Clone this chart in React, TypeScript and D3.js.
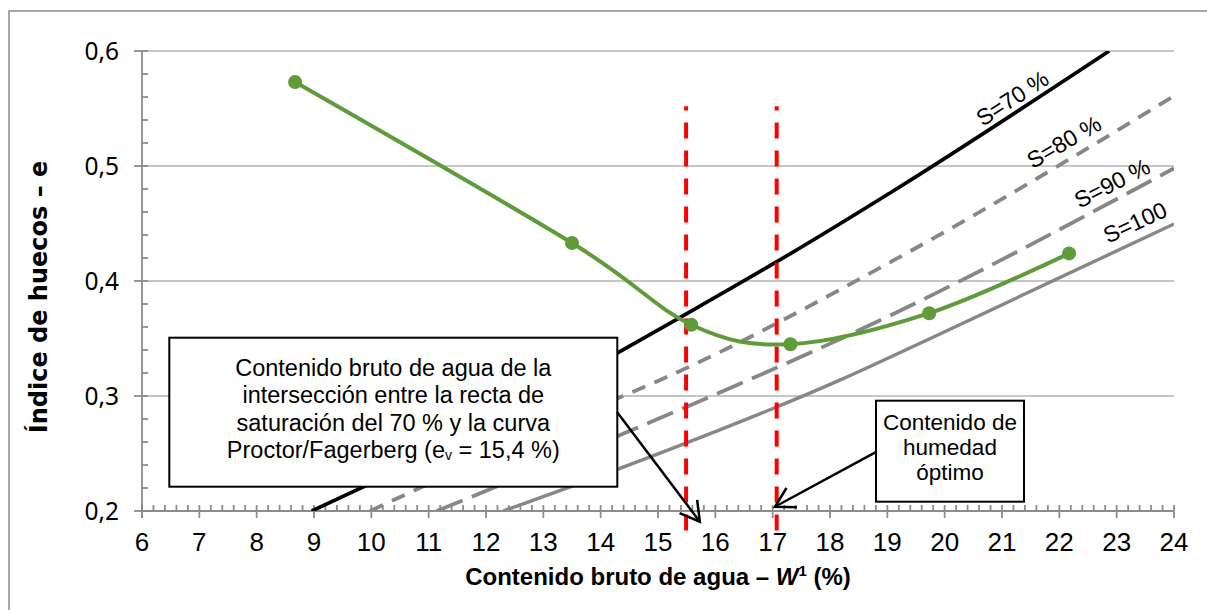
import React from 'react';
import * as d3 from 'd3';

// ---- data ----
const xTicks = [6, 7, 8, 9, 10, 11, 12, 13, 14, 15, 16, 17, 18, 19, 20, 21, 22, 23, 24];
const yTicks = [0.2, 0.3, 0.4, 0.5, 0.6];
const yTickLabels = ['0,2', '0,3', '0,4', '0,5', '0,6'];

// Proctor / Fagerberg curve (W, e)
const proctorW = [8.67, 13.5, 15.58, 17.31, 19.73, 22.17];
const proctorE = [0.573, 0.433, 0.362, 0.345, 0.372, 0.424];

// saturation lines
const s70: [number, number][] = [[8.96, 0.2], [9.86, 0.221], [14.28, 0.337], [15.41, 0.369], [17.08, 0.417], [19.22, 0.482], [22.87, 0.6]];
const s80: [number, number][] = [[9.98, 0.2], [14.34, 0.299], [15.04, 0.314], [19.22, 0.421], [24.04, 0.562]];
const s90: [number, number][] = [[11.14, 0.2], [14.34, 0.266], [19.05, 0.37], [24.0, 0.498]];
const s100: [number, number][] = [[12.3, 0.2], [14.28, 0.236], [18.18, 0.314], [19.75, 0.35], [24.0, 0.4496]];

// vertical reference lines (W)
const refLines = [15.49, 17.07];

const W = 1207;
const H = 610;
const margin = { left: 142, right: 33, top: 51, bottom: 99 };

const x = d3.scaleLinear().domain([6, 24]).range([margin.left, W - margin.right]);
const y = d3.scaleLinear().domain([0.2, 0.6]).range([H - margin.bottom, margin.top]);

const satLines = [
  { name: 'S=70 %', pts: s70, color: '#000000', width: 3.7, dash: undefined as string | undefined, lw: 21.18, le: 0.559, angle: -33 },
  { name: 'S=80 %', pts: s80, color: '#878787', width: 3.8, dash: '14 10', lw: 22.08, le: 0.521, angle: -30 },
  { name: 'S=90 %', pts: s90, color: '#878787', width: 3.8, dash: '28 10', lw: 22.92, le: 0.485, angle: -27 },
  { name: 'S=100', pts: s100, color: '#878787', width: 3.4, dash: undefined as string | undefined, lw: 23.32, le: 0.451, angle: -25 },
];

const arrowHead = (x1: number, y1: number, x2: number, y2: number, len = 22, spread = Math.PI / 6) => {
  const a = Math.atan2(y1 - y2, x1 - x2);
  const p1 = [x2 + len * Math.cos(a + spread), y2 + len * Math.sin(a + spread)];
  const p2 = [x2 + len * Math.cos(a - spread), y2 + len * Math.sin(a - spread)];
  return `M${p1[0]},${p1[1]}L${x2},${y2}L${p2[0]},${p2[1]}`;
};

const App: React.FC = () => {
  const line = d3.line<[number, number]>().x(d => x(d[0])).y(d => y(d[1]));
  const satPath = d3.line<[number, number]>().x(d => x(d[0])).y(d => y(d[1])).curve(d3.curveMonotoneX);
  const proctor: [number, number][] = proctorW.map((w, i) => [w, proctorE[i]]);
  const proctorPath = line.curve(d3.curveCardinal.tension(0))(proctor) || '';

  const minorX = d3.range(0, 91).map(i => 6 + i * 0.2);
  const minorY = d3.range(0, 21).map(i => 0.2 + i * 0.02);
  const x0 = x(6);
  const y0 = y(0.2);

  // annotation arrows (W, e)
  const a1 = { from: [14.285, 0.286], to: [15.73, 0.1907] };
  const a2 = { from: [18.815, 0.2516], to: [17.04, 0.2037] };

  return (
    <svg width={W} height={H} style={{ position: 'absolute', left: 0, top: 0, background: '#fff' }}>
      <defs>
        <clipPath id="plot">
          <rect x={x0} y={y(0.6)} width={x(24) - x0} height={y0 - y(0.6)} />
        </clipPath>
      </defs>
      <rect x={9} y={11} width={1300} height={700} fill="#fff" stroke="#8c8c8c" strokeWidth={1.5} />

      {/* gridlines */}
      {yTicks.filter(t => t > 0.2).map(t => (
        <line key={t} x1={x0} x2={x(24)} y1={y(t)} y2={y(t)} stroke="#b3b3b3" strokeWidth={1.5} />
      ))}

      {/* axes */}
      <g stroke="#8c8c8c" strokeWidth={1.8}>
        <line x1={x0} x2={x(24)} y1={y0} y2={y0} />
        <line x1={x0} x2={x0} y1={y(0.6)} y2={y0 + 7} />
        {minorX.map(t => <line key={'mx' + t} x1={x(t)} x2={x(t)} y1={y0} y2={y0 - 6} />)}
        {xTicks.map(t => <line key={'Mx' + t} x1={x(t)} x2={x(t)} y1={y0} y2={y0 + 7} />)}
        {minorY.map(t => <line key={'my' + t} x1={x0} x2={x0 + 6} y1={y(t)} y2={y(t)} />)}
        {yTicks.map(t => <line key={'My' + t} x1={x0 - 8} x2={x0} y1={y(t)} y2={y(t)} />)}
      </g>
      <g fontFamily="'Liberation Sans', Arial, sans-serif" fontSize={26} textAnchor="middle" fill="#000">
        {xTicks.map(t => <text key={t} x={x(t)} y={y0 + 40}>{t}</text>)}
      </g>
      <g fontFamily="'Noto Sans', sans-serif" fontSize={24.5} textAnchor="end" fill="#000">
        {yTicks.map((t, i) => <text key={t} x={119} y={y(t)} dy="0.36em">{yTickLabels[i]}</text>)}
      </g>

      {/* saturation lines */}
      <g clipPath="url(#plot)" fill="none">
        {satLines.map(s => (
          <path key={s.name} d={satPath(s.pts) || ''} stroke={s.color} strokeWidth={s.width} strokeDasharray={s.dash} />
        ))}
      </g>
      <g fontFamily="'Liberation Sans', Arial, sans-serif" fontSize={23} textAnchor="middle" fill="#000">
        {satLines.map(s => (
          <text key={s.name} transform={`translate(${x(s.lw)},${y(s.le)}) rotate(${s.angle})`} dy="0.35em">{s.name}</text>
        ))}
      </g>

      {/* red reference lines */}
      {refLines.map(w => (
        <line key={w} x1={x(w)} x2={x(w)} y1={y(0.183)} y2={y(0.552)} stroke="#ff0000" strokeWidth={4} strokeDasharray="16 12" />
      ))}

      {/* Proctor curve */}
      <path d={proctorPath} fill="none" stroke="#609b3a" strokeWidth={4} />
      {proctor.map(p => <circle key={p[0]} cx={x(p[0])} cy={y(p[1])} r={7} fill="#609b3a" />)}

      {/* annotation 1 */}
      <rect x={169.3} y={337.7} width={448} height={149} fill="#fff" stroke="#000" strokeWidth={2} />
      <g fontFamily="'Liberation Sans', Arial, sans-serif" fontSize={23.5} textAnchor="middle" fill="#000">
        <text x={393.3} y={376}>Contenido bruto de agua de la</text>
        <text x={393.3} y={403.3}>intersección entre la recta de</text>
        <text x={393.3} y={430.6}>saturación del 70 % y la curva</text>
        <text x={393.3} y={458}>Proctor/Fagerberg (e<tspan fontSize={14} dy={2}>v</tspan><tspan dy={-2}> = 15,4 %)</tspan></text>
      </g>
      <g stroke="#000" strokeWidth={2.5} fill="none">
        <line x1={x(a1.from[0])} y1={y(a1.from[1])} x2={x(a1.to[0])} y2={y(a1.to[1])} />
        <path d={arrowHead(x(a1.from[0]), y(a1.from[1]), x(a1.to[0]), y(a1.to[1]))} />
        <line x1={x(a2.from[0])} y1={y(a2.from[1])} x2={x(a2.to[0])} y2={y(a2.to[1])} />
        <path d={arrowHead(x(a2.from[0]), y(a2.from[1]), x(a2.to[0]), y(a2.to[1]))} />
      </g>

      {/* annotation 2 */}
      <rect x={876} y={400.7} width={148} height={101} fill="#fff" stroke="#000" strokeWidth={2} />
      <g fontFamily="'Liberation Sans', Arial, sans-serif" fontSize={22.5} textAnchor="middle" fill="#000">
        <text x={950} y={430}>Contenido de</text>
        <text x={950} y={455}>humedad</text>
        <text x={950} y={480}>óptimo</text>
      </g>

      {/* axis titles */}
      <text x={(x0 + x(24)) / 2} y={585} textAnchor="middle" fontFamily="'Liberation Sans', Arial, sans-serif" fontWeight="bold" fontSize={24}>
        Contenido bruto de agua –  <tspan fontStyle="italic">W</tspan><tspan fontSize={15} dy={-9}>1</tspan><tspan dy={9}> (%)</tspan>
      </text>
      <text transform="translate(47,297) rotate(-90)" textAnchor="middle" fontFamily="'DejaVu Sans', sans-serif" fontWeight="bold" fontSize={24}>
        Índice de huecos – e
      </text>
    </svg>
  );
};

export default App;
